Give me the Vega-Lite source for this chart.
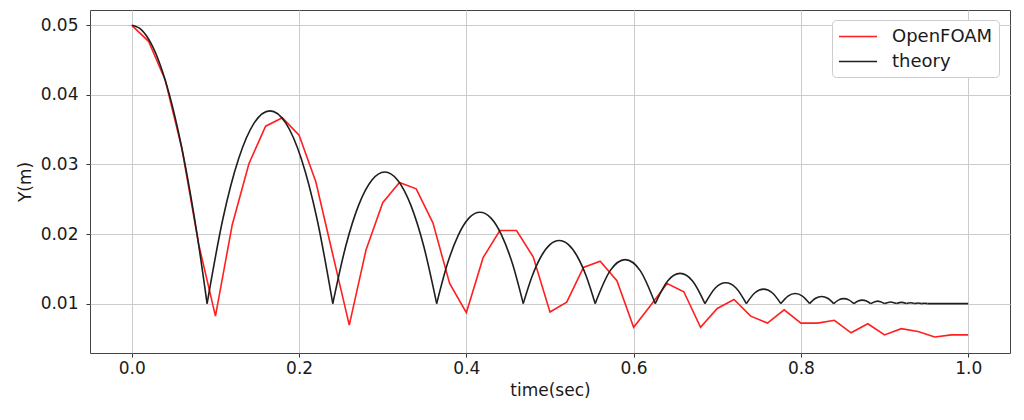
{
  "$schema": "https://vega.github.io/schema/vega-lite/v6.json",
  "width": 920,
  "height": 343,
  "autosize": {"type": "none"},
  "padding": {"left": 90, "top": 10, "right": 14, "bottom": 67},
  "background": "white",
  "config": {
    "font": "DejaVu Sans",
    "view": {"stroke": "#444444", "strokeWidth": 1},
    "axis": {
      "domain": false,
      "grid": true,
      "gridColor": "#cccccc",
      "gridWidth": 1,
      "ticks": true,
      "tickColor": "#333333",
      "tickSize": 4,
      "labelFont": "DejaVu Sans",
      "labelFontSize": 17,
      "labelColor": "#1a1a1a",
      "titleFont": "DejaVu Sans",
      "titleFontSize": 17,
      "titleFontWeight": "normal",
      "titleColor": "#1a1a1a"
    }
  },
  "datasets": {
    "openfoam": [
      {"series": "OpenFOAM", "t": 0.00, "y": 0.0500},
      {"series": "OpenFOAM", "t": 0.02, "y": 0.0477},
      {"series": "OpenFOAM", "t": 0.04, "y": 0.0421},
      {"series": "OpenFOAM", "t": 0.06, "y": 0.0322},
      {"series": "OpenFOAM", "t": 0.08, "y": 0.0185},
      {"series": "OpenFOAM", "t": 0.10, "y": 0.0082},
      {"series": "OpenFOAM", "t": 0.12, "y": 0.0213},
      {"series": "OpenFOAM", "t": 0.14, "y": 0.0301},
      {"series": "OpenFOAM", "t": 0.16, "y": 0.0355},
      {"series": "OpenFOAM", "t": 0.18, "y": 0.0367},
      {"series": "OpenFOAM", "t": 0.20, "y": 0.0342},
      {"series": "OpenFOAM", "t": 0.22, "y": 0.0275},
      {"series": "OpenFOAM", "t": 0.24, "y": 0.0172},
      {"series": "OpenFOAM", "t": 0.26, "y": 0.0069},
      {"series": "OpenFOAM", "t": 0.28, "y": 0.0177},
      {"series": "OpenFOAM", "t": 0.30, "y": 0.0245},
      {"series": "OpenFOAM", "t": 0.32, "y": 0.0274},
      {"series": "OpenFOAM", "t": 0.34, "y": 0.0265},
      {"series": "OpenFOAM", "t": 0.36, "y": 0.0216},
      {"series": "OpenFOAM", "t": 0.38, "y": 0.0129},
      {"series": "OpenFOAM", "t": 0.40, "y": 0.0087},
      {"series": "OpenFOAM", "t": 0.42, "y": 0.0166},
      {"series": "OpenFOAM", "t": 0.44, "y": 0.0205},
      {"series": "OpenFOAM", "t": 0.46, "y": 0.0205},
      {"series": "OpenFOAM", "t": 0.48, "y": 0.0167},
      {"series": "OpenFOAM", "t": 0.50, "y": 0.0088},
      {"series": "OpenFOAM", "t": 0.52, "y": 0.0102},
      {"series": "OpenFOAM", "t": 0.54, "y": 0.0152},
      {"series": "OpenFOAM", "t": 0.56, "y": 0.0161},
      {"series": "OpenFOAM", "t": 0.58, "y": 0.0133},
      {"series": "OpenFOAM", "t": 0.60, "y": 0.0066},
      {"series": "OpenFOAM", "t": 0.62, "y": 0.0097},
      {"series": "OpenFOAM", "t": 0.64, "y": 0.0129},
      {"series": "OpenFOAM", "t": 0.66, "y": 0.0117},
      {"series": "OpenFOAM", "t": 0.68, "y": 0.0066},
      {"series": "OpenFOAM", "t": 0.70, "y": 0.0093},
      {"series": "OpenFOAM", "t": 0.72, "y": 0.0106},
      {"series": "OpenFOAM", "t": 0.74, "y": 0.0082},
      {"series": "OpenFOAM", "t": 0.76, "y": 0.0072},
      {"series": "OpenFOAM", "t": 0.78, "y": 0.0091},
      {"series": "OpenFOAM", "t": 0.80, "y": 0.0072},
      {"series": "OpenFOAM", "t": 0.82, "y": 0.0072},
      {"series": "OpenFOAM", "t": 0.84, "y": 0.0076},
      {"series": "OpenFOAM", "t": 0.86, "y": 0.0058},
      {"series": "OpenFOAM", "t": 0.88, "y": 0.0071},
      {"series": "OpenFOAM", "t": 0.90, "y": 0.0055},
      {"series": "OpenFOAM", "t": 0.92, "y": 0.0064},
      {"series": "OpenFOAM", "t": 0.94, "y": 0.0060},
      {"series": "OpenFOAM", "t": 0.96, "y": 0.0052},
      {"series": "OpenFOAM", "t": 0.98, "y": 0.0055},
      {"series": "OpenFOAM", "t": 1.00, "y": 0.0055}
    ],
    "theory": [
      {"series": "theory", "arc": 0, "t": 0.0, "y": 0.05},
      {"series": "theory", "arc": 0, "t": 0.01125, "y": 0.049375},
      {"series": "theory", "arc": 0, "t": 0.0225, "y": 0.0475},
      {"series": "theory", "arc": 0, "t": 0.03375, "y": 0.044375},
      {"series": "theory", "arc": 0, "t": 0.045, "y": 0.04},
      {"series": "theory", "arc": 0, "t": 0.05625, "y": 0.034375},
      {"series": "theory", "arc": 0, "t": 0.0675, "y": 0.0275},
      {"series": "theory", "arc": 0, "t": 0.07875, "y": 0.019375},
      {"series": "theory", "arc": 0, "t": 0.09, "y": 0.01},
      {"series": "theory", "arc": 1, "t": 0.09, "y": 0.01},
      {"series": "theory", "arc": 1, "t": 0.10879, "y": 0.022119},
      {"series": "theory", "arc": 1, "t": 0.12758, "y": 0.030775},
      {"series": "theory", "arc": 1, "t": 0.14636, "y": 0.035969},
      {"series": "theory", "arc": 1, "t": 0.16515, "y": 0.0377},
      {"series": "theory", "arc": 1, "t": 0.18394, "y": 0.035969},
      {"series": "theory", "arc": 1, "t": 0.20273, "y": 0.030775},
      {"series": "theory", "arc": 1, "t": 0.22151, "y": 0.022119},
      {"series": "theory", "arc": 1, "t": 0.2403, "y": 0.01},
      {"series": "theory", "arc": 2, "t": 0.2403, "y": 0.01},
      {"series": "theory", "arc": 2, "t": 0.25583, "y": 0.018278},
      {"series": "theory", "arc": 2, "t": 0.27135, "y": 0.02419},
      {"series": "theory", "arc": 2, "t": 0.28688, "y": 0.027738},
      {"series": "theory", "arc": 2, "t": 0.3024, "y": 0.02892},
      {"series": "theory", "arc": 2, "t": 0.31793, "y": 0.027738},
      {"series": "theory", "arc": 2, "t": 0.33345, "y": 0.02419},
      {"series": "theory", "arc": 2, "t": 0.34898, "y": 0.018278},
      {"series": "theory", "arc": 2, "t": 0.3645, "y": 0.01},
      {"series": "theory", "arc": 3, "t": 0.3645, "y": 0.01},
      {"series": "theory", "arc": 3, "t": 0.37744, "y": 0.015749},
      {"series": "theory", "arc": 3, "t": 0.39038, "y": 0.019855},
      {"series": "theory", "arc": 3, "t": 0.40331, "y": 0.022319},
      {"series": "theory", "arc": 3, "t": 0.41625, "y": 0.02314},
      {"series": "theory", "arc": 3, "t": 0.42919, "y": 0.022319},
      {"series": "theory", "arc": 3, "t": 0.44213, "y": 0.019855},
      {"series": "theory", "arc": 3, "t": 0.45506, "y": 0.015749},
      {"series": "theory", "arc": 3, "t": 0.468, "y": 0.01},
      {"series": "theory", "arc": 4, "t": 0.468, "y": 0.01},
      {"series": "theory", "arc": 4, "t": 0.47875, "y": 0.013968},
      {"series": "theory", "arc": 4, "t": 0.4895, "y": 0.016803},
      {"series": "theory", "arc": 4, "t": 0.50025, "y": 0.018503},
      {"series": "theory", "arc": 4, "t": 0.511, "y": 0.01907},
      {"series": "theory", "arc": 4, "t": 0.52175, "y": 0.018503},
      {"series": "theory", "arc": 4, "t": 0.5325, "y": 0.016803},
      {"series": "theory", "arc": 4, "t": 0.54325, "y": 0.013968},
      {"series": "theory", "arc": 4, "t": 0.554, "y": 0.01},
      {"series": "theory", "arc": 5, "t": 0.554, "y": 0.01},
      {"series": "theory", "arc": 5, "t": 0.57195, "y": 0.01474},
      {"series": "theory", "arc": 5, "t": 0.5899, "y": 0.01632},
      {"series": "theory", "arc": 5, "t": 0.60785, "y": 0.01474},
      {"series": "theory", "arc": 5, "t": 0.6258, "y": 0.01},
      {"series": "theory", "arc": 6, "t": 0.6258, "y": 0.01},
      {"series": "theory", "arc": 6, "t": 0.64068, "y": 0.013255},
      {"series": "theory", "arc": 6, "t": 0.65555, "y": 0.01434},
      {"series": "theory", "arc": 6, "t": 0.67043, "y": 0.013255},
      {"series": "theory", "arc": 6, "t": 0.6853, "y": 0.01},
      {"series": "theory", "arc": 7, "t": 0.6853, "y": 0.01},
      {"series": "theory", "arc": 7, "t": 0.69768, "y": 0.01225},
      {"series": "theory", "arc": 7, "t": 0.71005, "y": 0.013},
      {"series": "theory", "arc": 7, "t": 0.72243, "y": 0.01225},
      {"series": "theory", "arc": 7, "t": 0.7348, "y": 0.01},
      {"series": "theory", "arc": 8, "t": 0.7348, "y": 0.01},
      {"series": "theory", "arc": 8, "t": 0.7451, "y": 0.01156},
      {"series": "theory", "arc": 8, "t": 0.7554, "y": 0.01208},
      {"series": "theory", "arc": 8, "t": 0.7657, "y": 0.01156},
      {"series": "theory", "arc": 8, "t": 0.776, "y": 0.01},
      {"series": "theory", "arc": 9, "t": 0.776, "y": 0.01},
      {"series": "theory", "arc": 9, "t": 0.7846, "y": 0.011088},
      {"series": "theory", "arc": 9, "t": 0.7932, "y": 0.01145},
      {"series": "theory", "arc": 9, "t": 0.8018, "y": 0.011088},
      {"series": "theory", "arc": 9, "t": 0.8104, "y": 0.01},
      {"series": "theory", "arc": 10, "t": 0.8104, "y": 0.01},
      {"series": "theory", "arc": 10, "t": 0.8176, "y": 0.010765},
      {"series": "theory", "arc": 10, "t": 0.8248, "y": 0.01102},
      {"series": "theory", "arc": 10, "t": 0.832, "y": 0.010765},
      {"series": "theory", "arc": 10, "t": 0.8392, "y": 0.01},
      {"series": "theory", "arc": 11, "t": 0.8392, "y": 0.01},
      {"series": "theory", "arc": 11, "t": 0.84523, "y": 0.010533},
      {"series": "theory", "arc": 11, "t": 0.85125, "y": 0.01071},
      {"series": "theory", "arc": 11, "t": 0.85728, "y": 0.010533},
      {"series": "theory", "arc": 11, "t": 0.8633, "y": 0.01},
      {"series": "theory", "arc": 12, "t": 0.8633, "y": 0.01},
      {"series": "theory", "arc": 12, "t": 0.86833, "y": 0.010375},
      {"series": "theory", "arc": 12, "t": 0.87335, "y": 0.0105},
      {"series": "theory", "arc": 12, "t": 0.87838, "y": 0.010375},
      {"series": "theory", "arc": 12, "t": 0.8834, "y": 0.01},
      {"series": "theory", "arc": 13, "t": 0.8834, "y": 0.01},
      {"series": "theory", "arc": 13, "t": 0.8918, "y": 0.01035},
      {"series": "theory", "arc": 13, "t": 0.9002, "y": 0.01},
      {"series": "theory", "arc": 14, "t": 0.9002, "y": 0.01},
      {"series": "theory", "arc": 14, "t": 0.90725, "y": 0.01024},
      {"series": "theory", "arc": 14, "t": 0.9143, "y": 0.01},
      {"series": "theory", "arc": 15, "t": 0.9143, "y": 0.01},
      {"series": "theory", "arc": 15, "t": 0.9202, "y": 0.01017},
      {"series": "theory", "arc": 15, "t": 0.9261, "y": 0.01},
      {"series": "theory", "arc": 16, "t": 0.9261, "y": 0.01},
      {"series": "theory", "arc": 16, "t": 0.93105, "y": 0.01012},
      {"series": "theory", "arc": 16, "t": 0.936, "y": 0.01},
      {"series": "theory", "arc": 17, "t": 0.936, "y": 0.01},
      {"series": "theory", "arc": 17, "t": 0.94015, "y": 0.01008},
      {"series": "theory", "arc": 17, "t": 0.9443, "y": 0.01},
      {"series": "theory", "arc": 18, "t": 0.9443, "y": 0.01},
      {"series": "theory", "arc": 18, "t": 0.9478, "y": 0.01006},
      {"series": "theory", "arc": 18, "t": 0.9513, "y": 0.01},
      {"series": "theory", "arc": 19, "t": 0.9513, "y": 0.01},
      {"series": "theory", "arc": 19, "t": 1.0, "y": 0.01}
    ]
  },
  "encoding": {
    "x": {
      "field": "t",
      "type": "quantitative",
      "scale": {"domain": [-0.05, 1.05], "nice": false, "zero": false},
      "axis": {"title": "time(sec)", "values": [0, 0.2, 0.4, 0.6, 0.8, 1.0], "format": ".1f", "labelPadding": 3, "titlePadding": 6}
    },
    "y": {
      "field": "y",
      "type": "quantitative",
      "scale": {"domain": [0.0029, 0.0522], "nice": false, "zero": false},
      "axis": {"title": "Y(m)", "values": [0.01, 0.02, 0.03, 0.04, 0.05], "format": ".2f", "labelPadding": 8, "titlePadding": 6}
    },
    "color": {
      "field": "series",
      "type": "nominal",
      "scale": {"domain": ["OpenFOAM", "theory"], "range": ["#ff1f1f", "#1f1f1f"]},
      "legend": {
        "title": null,
        "orient": "none",
        "legendX": 742,
        "legendY": 10,
        "fillColor": "white",
        "strokeColor": "#cccccc",
        "cornerRadius": 4,
        "padding": 6,
        "symbolType": "M-1,0H3",
        "symbolSize": 361,
        "symbolStrokeWidth": 1.6,
        "labelFontSize": 18,
        "labelFont": "DejaVu Sans",
        "labelColor": "#1a1a1a",
        "labelOffset": 33,
        "rowPadding": 5
      }
    }
  },
  "layer": [
    {
      "data": {"name": "openfoam"},
      "mark": {"type": "line", "strokeWidth": 1.6, "clip": true}
    },
    {
      "data": {"name": "theory"},
      "mark": {"type": "line", "strokeWidth": 1.6, "interpolate": "monotone", "clip": true},
      "encoding": {"detail": {"field": "arc", "type": "nominal"}}
    }
  ]
}
